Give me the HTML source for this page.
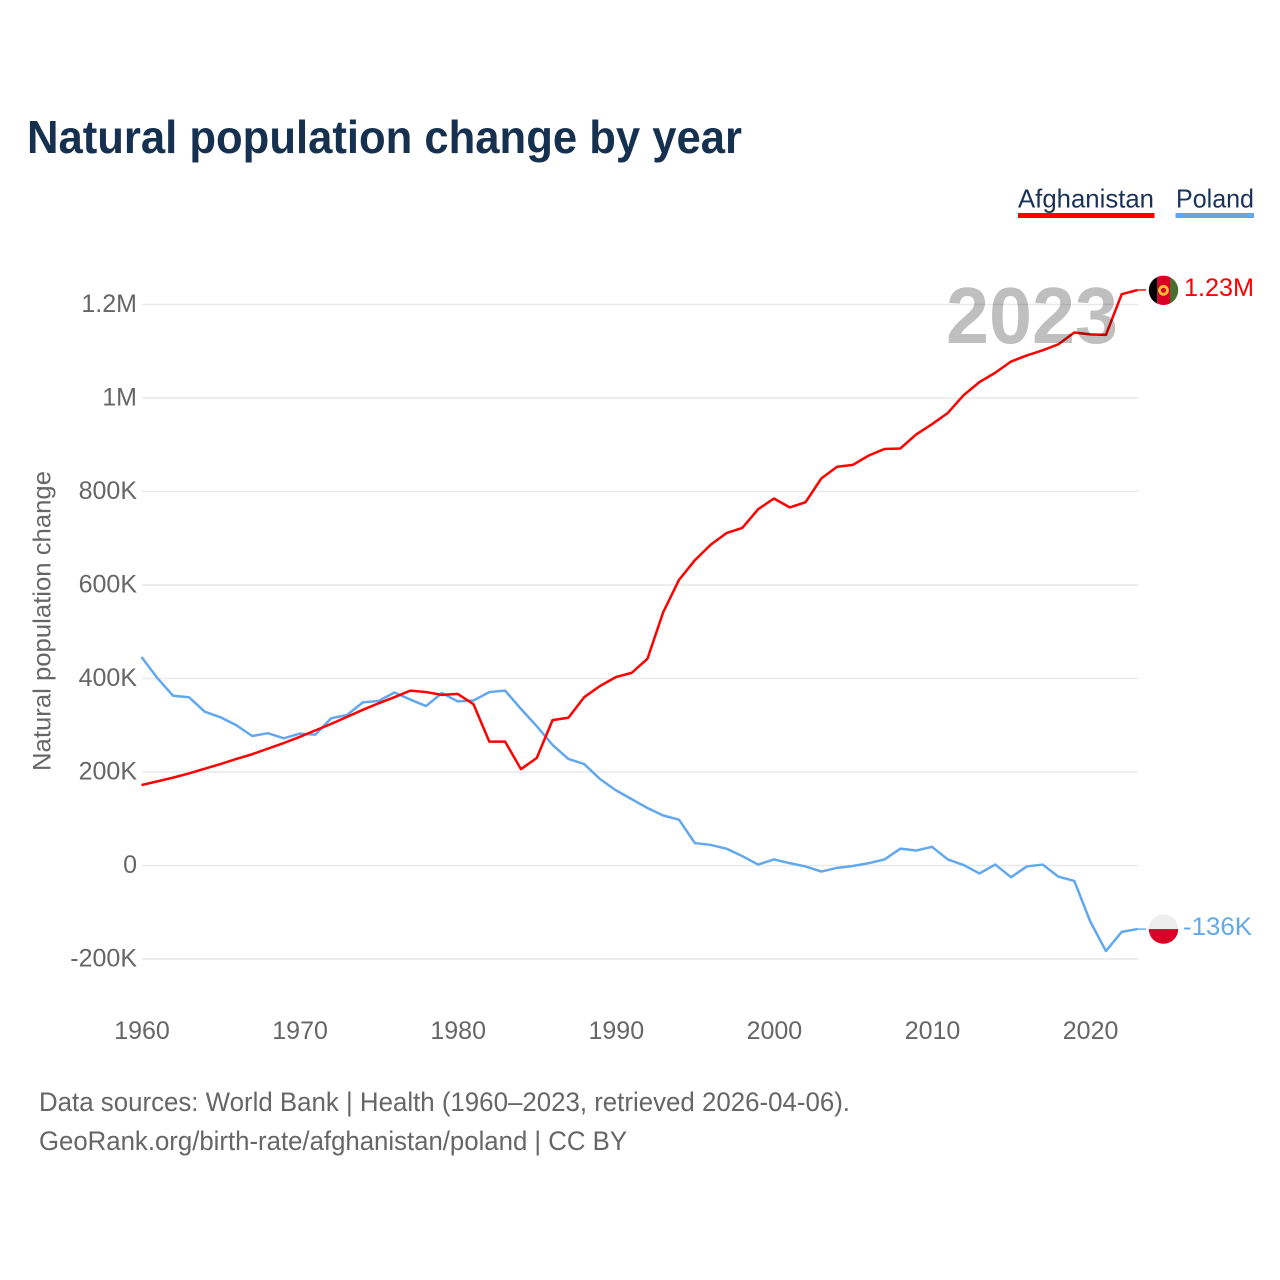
<!DOCTYPE html>
<html lang="en">
<head>
<meta charset="utf-8">
<title>Natural population change by year</title>
<style>
html,body{margin:0;padding:0;background:#fff;width:1280px;height:1280px;overflow:hidden}
svg{display:block;font-family:"Liberation Sans",sans-serif}
</style>
</head>
<body>
<svg id="chart" width="1280" height="1280" viewBox="0 0 1280 1280" xmlns="http://www.w3.org/2000/svg">
  <rect width="1280" height="1280" fill="#ffffff"/>
  <text x="27" y="153" font-size="46" font-weight="700" fill="#16304f" textLength="715" lengthAdjust="spacingAndGlyphs">Natural population change by year</text>

  <g>
    <g>
      <text x="1018" y="207.500" font-size="26" fill="#1a3258" textLength="136" lengthAdjust="spacingAndGlyphs">Afghanistan</text>
      <rect x="1018" y="213" width="136.500" height="5" fill="#ff0000"/>
    </g>
    <g>
      <text x="1176" y="207.500" font-size="26" fill="#1a3258" textLength="78" lengthAdjust="spacingAndGlyphs">Poland</text>
      <rect x="1175.500" y="213" width="78.500" height="5" fill="#62a8ee"/>
    </g>
  </g>

  <text transform="translate(50.500 621) rotate(-90)" text-anchor="middle" font-size="25" fill="#666666" textLength="300" lengthAdjust="spacingAndGlyphs">Natural population change</text>

  <g id="grid"></g>
  <g id="yticks"></g>
  <g id="xticks"></g>
  <g id="series"></g>
  <g id="ends"></g>

  <text x="946" y="343" font-size="80" font-weight="700" fill="#000000" fill-opacity="0.25" textLength="172" lengthAdjust="spacingAndGlyphs">2023</text>

  <g>
    <text x="39" y="1111" font-size="27" fill="#666666" textLength="811" lengthAdjust="spacingAndGlyphs">Data sources: World Bank | Health (1960–2023, retrieved 2026-04-06).</text>
    <text x="39" y="1150" font-size="27" fill="#666666" textLength="588" lengthAdjust="spacingAndGlyphs">GeoRank.org/birth-rate/afghanistan/poland | CC BY</text>
  </g>
</svg>
<script>
const startYear = 1960;
const afghanistanValues = [172,180,188,197,207,217,228,238,250,262,275,289,303,318,333,347,360,374,371,365,367,345,265,265,206,230,311,316,360,384,403,412,442,542,611,653,686,711,722,762,785,766,777,828,853,857,877,891,892,922,944,968,1006,1034,1054,1078,1091,1102,1115,1140,1136,1135,1222,1231];
const polandValues = [446,401,363,360,329,317,300,277,283,272,282,280,315,322,349,352,370,355,341,369,351,353,371,374,335,298,258,228,217,185,161,142,123,107,98,48,44,36,20,2,13,5,-2,-13,-5,-1,5,13,36,32,40,13,1,-17,2,-25,-2,2,-24,-33,-119,-183,-142,-136];
const yTickValues = [-200,0,200,400,600,800,1000,1200];
const yTickLabels = ["-200K","0","200K","400K","600K","800K","1M","1.2M"];
const xTickYears = [1960,1970,1980,1990,2000,2010,2020];
const endLabelAfghanistan = "1.23M";
const endLabelPoland = "-136K";

const NS = "http://www.w3.org/2000/svg";
function xScale(year){ return 141.5 + (year - 1960) * 15.81; }
function yScale(v){ return 865.5 - v * 0.4675; }
function mk(tag, attrs, parent){
  const el = document.createElementNS(NS, tag);
  for (const k in attrs) el.setAttribute(k, attrs[k]);
  parent.appendChild(el);
  return el;
}

const grid = document.getElementById('grid');
const yticks = document.getElementById('yticks');
yTickValues.forEach(function(v, i){
  const line = mk('line', {x1:142, x2:1138.5, y1:yScale(v), y2:yScale(v), stroke:'#e9e9e9', 'stroke-width':1.5}, grid);
  
  
  const t = mk('text', {x:137, y:yScale(v)+7.5, 'text-anchor':'end', 'font-size':25, fill:'#666666'}, yticks);
  
  
  t.textContent = yTickLabels[i];
});

const xticks = document.getElementById('xticks');
xTickYears.forEach(function(year){
  const t = mk('text', {x:xScale(year)+0.5, y:1039, 'text-anchor':'middle', 'font-size':25, fill:'#666666'}, xticks);
  
  
  t.textContent = String(year);
});

const series = document.getElementById('series');
function pathFor(vals){
  return vals.map(function(v, i){
    return (i ? 'L' : 'M') + xScale(startYear + i).toFixed(2) + ' ' + yScale(v).toFixed(2);
  }).join(' ');
}
const polandLine = mk('path', {d:pathFor(polandValues), fill:'none', stroke:'#62a8ee', 'stroke-width':2.5, 'stroke-linejoin':'round'}, series);


const afghanLine = mk('path', {d:pathFor(afghanistanValues), fill:'none', stroke:'#ff0000', 'stroke-width':2.5, 'stroke-linejoin':'round'}, series);



const ends = document.getElementById('ends');
const lastX = xScale(startYear + afghanistanValues.length - 1);

/* Afghanistan end marker */
const ay = yScale(afghanistanValues[afghanistanValues.length - 1]);
const ag = mk('g', {}, ends);


const ac = mk('line', {x1:lastX, x2:1146, y1:ay, y2:ay, stroke:'#ff0000', 'stroke-width':1.4}, ag);


const aClip = mk('clipPath', {id:'clipAf'}, ag);
mk('circle', {cx:1163.5, cy:ay+0.3, r:14.7}, aClip);
const aFlag = mk('g', {'clip-path':'url(#clipAf)'}, ag);


mk('rect', {x:1148, y:ay-16, width:9.3, height:32, fill:'#000000'}, aFlag);
mk('rect', {x:1157.3, y:ay-16, width:12.7, height:32, fill:'#d80027'}, aFlag);
mk('rect', {x:1170, y:ay-16, width:9, height:32, fill:'#496e2d'}, aFlag);
mk('circle', {cx:1163.5, cy:ay+0.3, r:4, fill:'none', stroke:'#f5c02c', 'stroke-width':2.8}, aFlag);
const aLabel = mk('text', {x:1184, y:ay+6, 'font-size':25, fill:'#ff0000', textLength:70, lengthAdjust:'spacingAndGlyphs'}, ag);


aLabel.textContent = endLabelAfghanistan;

/* Poland end marker */
const py = yScale(polandValues[polandValues.length - 1]);
const pg = mk('g', {}, ends);


const pc = mk('line', {x1:lastX, x2:1146, y1:py, y2:py, stroke:'#62a8ee', 'stroke-width':1.4}, pg);


const pClip = mk('clipPath', {id:'clipPl'}, pg);
mk('circle', {cx:1163.5, cy:py, r:14.7}, pClip);
const pFlag = mk('g', {'clip-path':'url(#clipPl)'}, pg);


mk('rect', {x:1148, y:py-16, width:32, height:16, fill:'#eeeeee'}, pFlag);
mk('rect', {x:1148, y:py, width:32, height:16, fill:'#d80027'}, pFlag);
const pLabel = mk('text', {x:1183, y:py+6, 'font-size':25, fill:'#62a8ee', textLength:69, lengthAdjust:'spacingAndGlyphs'}, pg);


pLabel.textContent = endLabelPoland;
</script>
</body>
</html>
